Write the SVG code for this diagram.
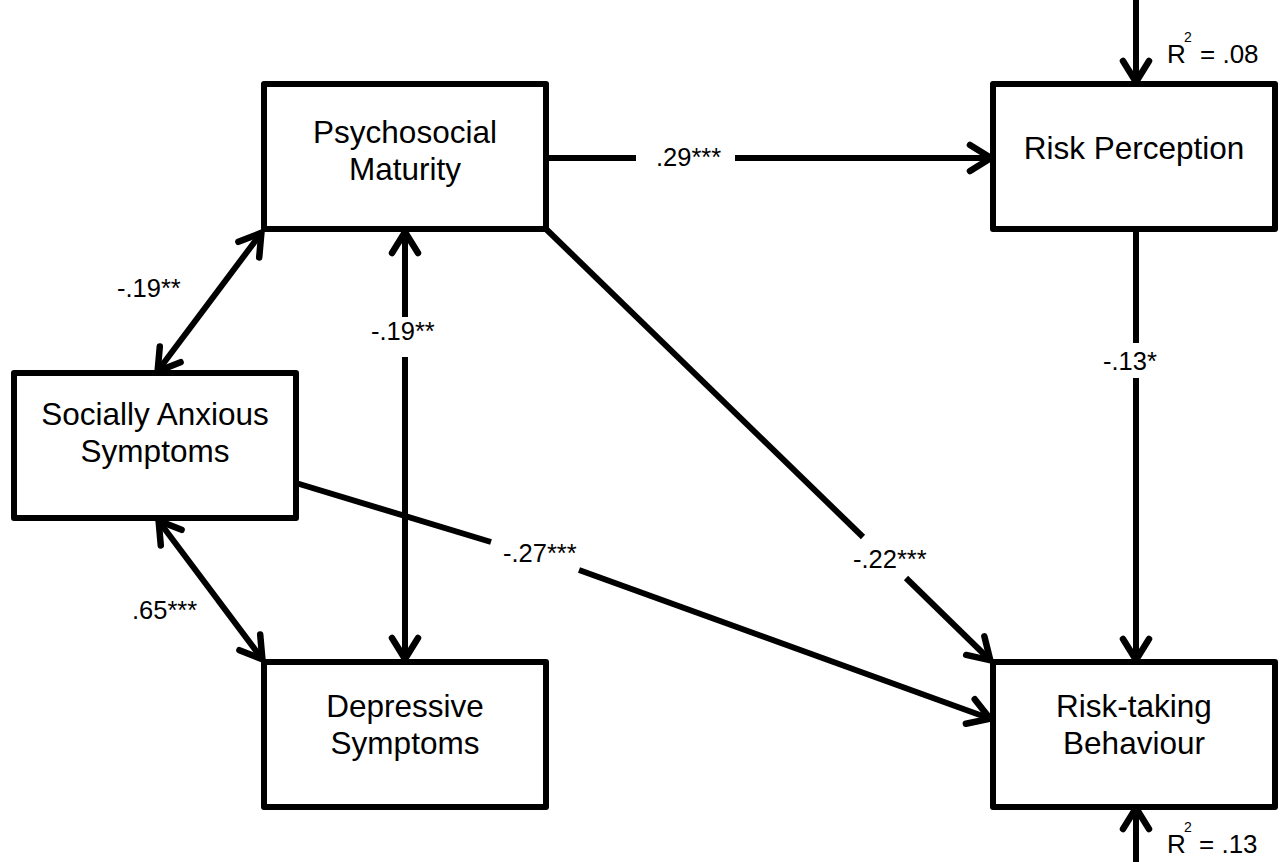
<svg xmlns="http://www.w3.org/2000/svg" width="1282" height="862" viewBox="0 0 1282 862">
<style>
.box{fill:#fff;stroke:#000;stroke-width:6;stroke-linejoin:round}
.t{font-family:"Liberation Sans",Arial,sans-serif;font-size:31.5px;fill:#000;text-anchor:middle}
.l{font-family:"Liberation Sans",Arial,sans-serif;font-size:25.5px;fill:#000}
.r{font-family:"Liberation Sans",Arial,sans-serif;font-size:26px;fill:#000}
.sup{font-family:"Liberation Sans",Arial,sans-serif;font-size:14px;fill:#000}
.c{fill:none;stroke:#000;stroke-width:6}
</style>
<defs>
<marker id="ah" markerUnits="userSpaceOnUse" markerWidth="40" markerHeight="40" viewBox="-30 -20 40 40" refX="0" refY="0" orient="auto-start-reverse">
<path d="M-22,-13 L-1,0 L-22,13" fill="none" stroke="#000" stroke-width="6.5" stroke-linecap="round" stroke-linejoin="miter"/>
</marker>
</defs>
<rect width="1282" height="862" fill="#fff"/>
<g id="connectors">
<line class="c" x1="546" y1="158" x2="636" y2="158"/>
<line class="c" x1="735" y1="158" x2="992" y2="158" marker-end="url(#ah)"/>
<line class="c" x1="1136" y1="229" x2="1136" y2="343"/>
<line class="c" x1="1136" y1="378" x2="1136" y2="661" marker-end="url(#ah)"/>
<line class="c" x1="1136" y1="0" x2="1136" y2="83" marker-end="url(#ah)"/>
<line class="c" x1="1136" y1="862" x2="1136" y2="807" marker-end="url(#ah)"/>
<line class="c" x1="262" y1="232" x2="157" y2="372" marker-start="url(#ah)" marker-end="url(#ah)"/>
<line class="c" x1="158" y1="520" x2="263" y2="660" marker-start="url(#ah)" marker-end="url(#ah)"/>
<line class="c" x1="405" y1="317" x2="405" y2="231" marker-end="url(#ah)"/>
<line class="c" x1="405" y1="357" x2="405" y2="660" marker-end="url(#ah)"/>
<line class="c" x1="546" y1="229" x2="863" y2="537"/>
<line class="c" x1="906" y1="578" x2="991" y2="661" marker-end="url(#ah)"/>
<line class="c" x1="296" y1="483" x2="491" y2="542"/>
<line class="c" x1="579" y1="570" x2="991" y2="719" marker-end="url(#ah)"/>
</g>
<g id="labels">
<text class="l" x="656" y="166">.29***</text>
<text class="l" x="1103" y="370">-.13*</text>
<text class="l" x="371" y="340">-.19**</text>
<text class="l" x="117" y="297">-.19**</text>
<text class="l" x="132" y="619">.65***</text>
<text class="l" x="503" y="562">-.27***</text>
<text class="l" x="853" y="568">-.22***</text>
<text class="r" x="1167" y="63">R</text><text class="sup" x="1184" y="42">2</text><text class="r" x="1200" y="63">= .08</text>
<text class="r" x="1167" y="853">R</text><text class="sup" x="1184" y="832">2</text><text class="r" x="1199" y="853">= .13</text>
</g>
<g id="psychosocial-maturity">
<rect class="box" x="264" y="84" width="282" height="145"/>
<text class="t" x="405" y="143">Psychosocial</text>
<text class="t" x="405" y="180">Maturity</text>
</g>
<g id="risk-perception">
<rect class="box" x="993" y="84" width="282" height="145"/>
<text class="t" x="1134" y="159">Risk Perception</text>
</g>
<g id="socially-anxious-symptoms">
<rect class="box" x="14" y="373" width="282" height="145"/>
<text class="t" x="155" y="425">Socially Anxious</text>
<text class="t" x="155" y="462">Symptoms</text>
</g>
<g id="depressive-symptoms">
<rect class="box" x="264" y="662" width="282" height="145"/>
<text class="t" x="405" y="717">Depressive</text>
<text class="t" x="405" y="754">Symptoms</text>
</g>
<g id="risk-taking-behaviour">
<rect class="box" x="993" y="662" width="282" height="145"/>
<text class="t" x="1134" y="717">Risk-taking</text>
<text class="t" x="1134" y="754">Behaviour</text>
</g>
</svg>
